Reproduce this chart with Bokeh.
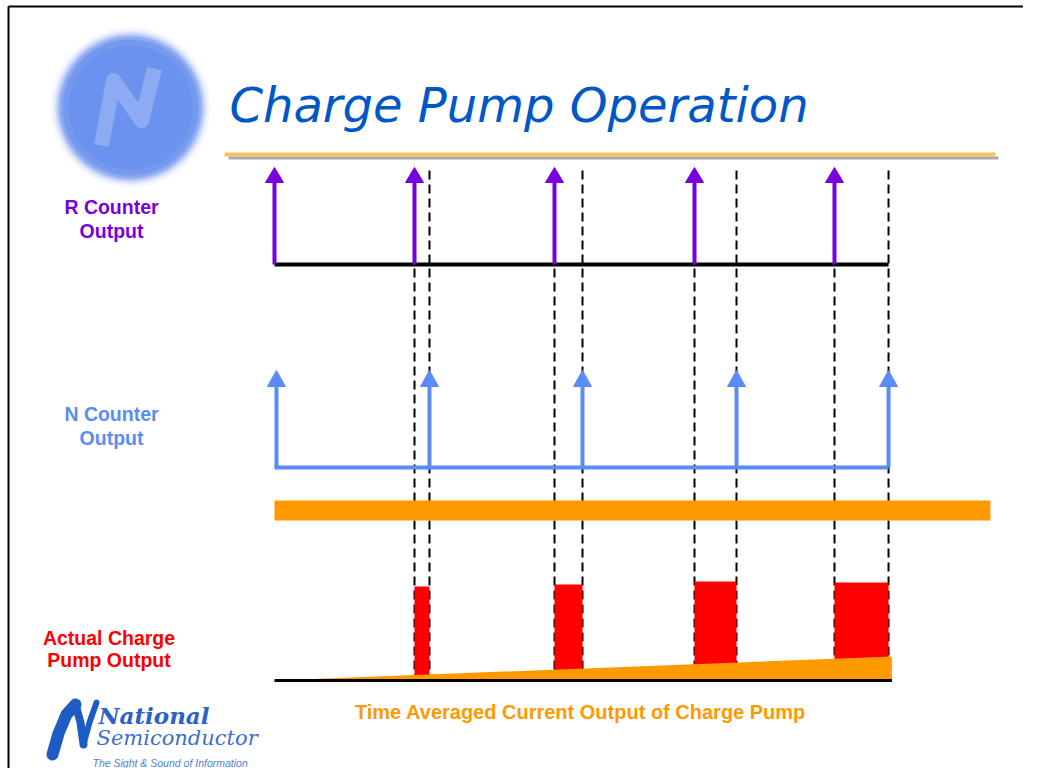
from bokeh.plotting import figure
from bokeh.models import Range1d, Label
from bokeh.embed import file_html
from bokeh.resources import INLINE

# ---------------- data (time in R-counter periods) ----------------
r_edges = [0.0, 1.0, 2.0, 3.0, 4.0]            # R counter output rising edges
n_edges = [0.014, 1.107, 2.2, 3.3, 4.386]      # N counter output rising edges
cp_levels = [0.94, 0.96, 0.99, 0.98]           # charge pump pulse amplitude (rel.)
avg_start, avg_end = 0.0, 0.24                 # time-averaged current (rel.)
t_cp_end = 4.41                                # end of charge pump trace
t_bar_end = 5.114                              # end of orange band
title_text = "Charge Pump Operation"
r_label = ["R Counter", "Output"]
n_label = ["N Counter", "Output"]
cp_label = ["Actual Charge", "Pump Output"]
avg_label = "Time Averaged Current Output of Charge Pump"

# ---------------- layout constants (picture pixels) ----------------
W, H = 1023, 768
PX_PER_T = 140.0
T0_PX = 274.0
R_BASE, R_HEAD, R_TIP = 264, 182, 167
N_BASE, N_HEAD, N_TIP = 467, 386, 370
DASH_TOP, CP_BASE = 170, 680
BAR_TOP, BAR_BOT = 500, 520
HEAD_HW = 9 / PX_PER_T

PURPLE = "#7700dd"
NBLUE = "#5b8cf5"
ORANGE = "#ff9900"
RED = "#ff0000"
TBLUE = "#0057c8"

t_left = -T0_PX / PX_PER_T
p = figure(width=W, height=H, output_backend="svg", toolbar_location=None,
           x_range=Range1d(t_left, t_left + W / PX_PER_T),
           y_range=Range1d(H, 0),
           x_axis_type=None, y_axis_type=None, min_border=0,
           outline_line_color=None, background_fill_color="white")
p.grid.visible = False
p.extra_x_ranges = {"px": Range1d(0, W)}
p.extra_y_ranges = {"cp": Range1d((CP_BASE - H) / 100.0, CP_BASE / 100.0)}

# slide border
p.segment(x0=[8, 8], y0=[6, 6], x1=[W, 8], y1=[6, H], line_color="black",
          line_width=2, x_range_name="px")

# logo sphere (soft edged)
p.scatter(x=[130] * 7, y=[107] * 7, size=[160, 154, 150, 146, 142, 136, 124],
          fill_color=["#f5f7fe", "#e4eafc", "#ccd8f9", "#aec2f5", "#8eaaf2",
                      "#7499ef", "#6a92ee"],
          line_color=None, x_range_name="px")
p.multi_line(xs=[[101, 113, 141, 154]], ys=[[145, 80, 120, 68]],
             line_color="#a3bdf5", line_width=15, line_alpha=0.6,
             line_join="round", x_range_name="px")

# title and rule
p.add_layout(Label(x=229, y=104, text=title_text, x_range_name="px",
                   text_font="DejaVu Sans", text_font_style="italic",
                   text_font_size="48px", text_color=TBLUE,
                   text_baseline="alphabetic"))
p.segment(x0=[224], y0=[154], x1=[995], y1=[154], line_color="#f9c35c",
          line_width=4, x_range_name="px")
p.segment(x0=[228], y0=[157.5], x1=[998], y1=[157.5], line_color="#aaaaaa",
          line_width=3, x_range_name="px")

# dashed guide lines
dash_x = r_edges[1:] + n_edges[1:]
p.segment(x0=dash_x, y0=[DASH_TOP] * len(dash_x), x1=dash_x,
          y1=[CP_BASE] * len(dash_x), line_color="black", line_width=2,
          line_dash="9 5")

# R counter
p.segment(x0=[r_edges[0]], y0=[R_BASE], x1=[n_edges[-1]], y1=[R_BASE],
          line_color="black", line_width=4)
p.segment(x0=r_edges, y0=[R_BASE] * 5, x1=r_edges, y1=[R_HEAD] * 5,
          line_color=PURPLE, line_width=4)
p.patches(xs=[[t - HEAD_HW, t, t + HEAD_HW] for t in r_edges],
          ys=[[R_HEAD, R_TIP, R_HEAD]] * 5, fill_color=PURPLE, line_color=PURPLE)

# N counter
p.segment(x0=[r_edges[0]], y0=[N_BASE], x1=[n_edges[-1]], y1=[N_BASE],
          line_color=NBLUE, line_width=4)
p.segment(x0=n_edges, y0=[N_BASE] * 5, x1=n_edges, y1=[N_HEAD] * 5,
          line_color=NBLUE, line_width=4)
p.patches(xs=[[t - HEAD_HW, t, t + HEAD_HW] for t in n_edges],
          ys=[[N_HEAD, N_TIP, N_HEAD]] * 5, fill_color=NBLUE, line_color=NBLUE)

# orange band
p.quad(left=[r_edges[0]], right=[t_bar_end], top=[BAR_TOP], bottom=[BAR_BOT],
       fill_color=ORANGE, line_color=None)

# charge pump pulses
p.quad(left=r_edges[1:], right=n_edges[1:], bottom=[0] * 4, top=cp_levels,
       fill_color=RED, line_color=None, y_range_name="cp")
# time averaged current wedge
p.patch(x=[r_edges[0], t_cp_end, t_cp_end], y=[avg_start, avg_end, 0.0],
        fill_color=ORANGE, line_color=None, y_range_name="cp")
p.segment(x0=[r_edges[0]], y0=[0.0], x1=[t_cp_end], y1=[0.0], line_color="black",
          line_width=3, y_range_name="cp")


def lab(x, y, txt, color, size="19.5px", font="Liberation Sans", style="bold",
        align="center"):
    p.add_layout(Label(x=x, y=y, text=txt, x_range_name="px", text_font=font,
                       text_font_style=style, text_font_size=size,
                       text_color=color, text_align=align,
                       text_baseline="alphabetic"))


lab(111, 206, r_label[0], PURPLE)
lab(111, 230, r_label[1], PURPLE)
lab(111, 413, n_label[0], NBLUE)
lab(111, 437, n_label[1], NBLUE)
lab(108.5, 637, cp_label[0], RED)
lab(108.5, 659, cp_label[1], RED)
lab(580, 711, avg_label, ORANGE, size="20px")

# National Semiconductor logo
p.multi_line(xs=[[52, 58, 66, 75], [75, 80, 83], [83, 89, 96]],
             ys=[[754, 733, 714, 704], [704, 722, 744], [744, 722, 702]],
             line_color="#1f5bc4", line_width=[12, 8, 6], line_join="round",
             line_cap="round", x_range_name="px")
lab(98, 715, "National", "#2a62c6", size="23px", font="DejaVu Serif",
    style="bold italic", align="left")
lab(96, 737, "Semiconductor", "#3b6fd0", size="21px", font="DejaVu Serif",
    style="italic", align="left")
lab(92, 762, "The Sight & Sound of Information", "#4f7fd6", size="10.5px",
    font="Liberation Sans", style="italic", align="left")

open("out.html", "w").write(file_html(p, INLINE))
